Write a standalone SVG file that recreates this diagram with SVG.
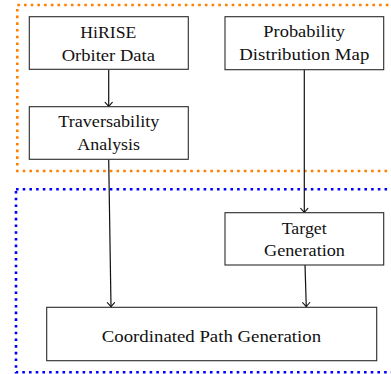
<svg xmlns="http://www.w3.org/2000/svg" width="391" height="374" viewBox="0 0 391 374">
  <style>
    .box { fill: #ffffff; stroke: #2a2a2a; stroke-width: 1.1; }
    .lbl { font-family: "Liberation Serif", "Times New Roman", serif; font-size: 16.5px; fill: #111111; text-anchor: middle; }
    .wire { fill: none; stroke: #111111; stroke-width: 1.2; }
    .zone { fill: none; stroke-width: 2.6; stroke-dasharray: 2.6 4.1; }
  </style>
  <defs>
    <marker id="arrow" markerUnits="userSpaceOnUse" markerWidth="10" markerHeight="10" viewBox="-6 -5 7 10" refX="0" refY="0" orient="auto">
      <path d="M -4.2,-3.6 Q -1.2,-0.8 0,0 Q -1.2,0.8 -4.2,3.6" fill="none" stroke="#111111" stroke-width="1.1" stroke-linecap="round"/>
    </marker>
  </defs>

  <!-- grouping frames -->
  <g id="frames">
    <rect class="zone" x="17.3" y="5" width="390" height="166" stroke="#ff8000"/>
    <rect class="zone" x="16" y="189.3" width="392" height="183" stroke="#0000ff"/>
  </g>

  <!-- connectors -->
  <g id="connectors">
    <line class="wire" x1="108.7" y1="69.5" x2="108.7" y2="106.5" marker-end="url(#arrow)"/>
    <line class="wire" x1="304.3" y1="70" x2="304.3" y2="212.5" marker-end="url(#arrow)"/>
    <line class="wire" x1="305" y1="265" x2="306.3" y2="306.8" marker-end="url(#arrow)"/>
    <line class="wire" x1="108.7" y1="159.5" x2="111" y2="306.8" marker-end="url(#arrow)"/>
  </g>

  <g id="hirise">
    <rect class="box" x="29.3" y="16.7" width="159" height="52.6"/>
    <text class="lbl" x="108.3" y="37.7" textLength="56" lengthAdjust="spacingAndGlyphs">HiRISE</text>
    <text class="lbl" x="108.3" y="60.7" textLength="93.3" lengthAdjust="spacingAndGlyphs">Orbiter Data</text>
  </g>

  <g id="traversability">
    <rect class="box" x="29.3" y="106.7" width="159" height="52.6"/>
    <text class="lbl" x="108.8" y="127.2" textLength="101" lengthAdjust="spacingAndGlyphs">Traversability</text>
    <text class="lbl" x="108.7" y="149.5" textLength="62.7" lengthAdjust="spacingAndGlyphs">Analysis</text>
  </g>

  <g id="probability">
    <rect class="box" x="225" y="16.7" width="158.7" height="53"/>
    <text class="lbl" x="304.2" y="36.5" textLength="81.7" lengthAdjust="spacingAndGlyphs">Probability</text>
    <text class="lbl" x="304.3" y="59.5" textLength="130" lengthAdjust="spacingAndGlyphs">Distribution Map</text>
  </g>

  <g id="target">
    <rect class="box" x="225" y="212.7" width="158.7" height="52.3"/>
    <text class="lbl" x="304.2" y="234.3" textLength="45" lengthAdjust="spacingAndGlyphs">Target</text>
    <text class="lbl" x="304.5" y="256" textLength="81" lengthAdjust="spacingAndGlyphs">Generation</text>
  </g>

  <g id="coordinated">
    <rect class="box" x="46.7" y="307.3" width="330" height="53.4"/>
    <text class="lbl" x="211.4" y="341.7" textLength="219.3" lengthAdjust="spacingAndGlyphs">Coordinated Path Generation</text>
  </g>
</svg>
